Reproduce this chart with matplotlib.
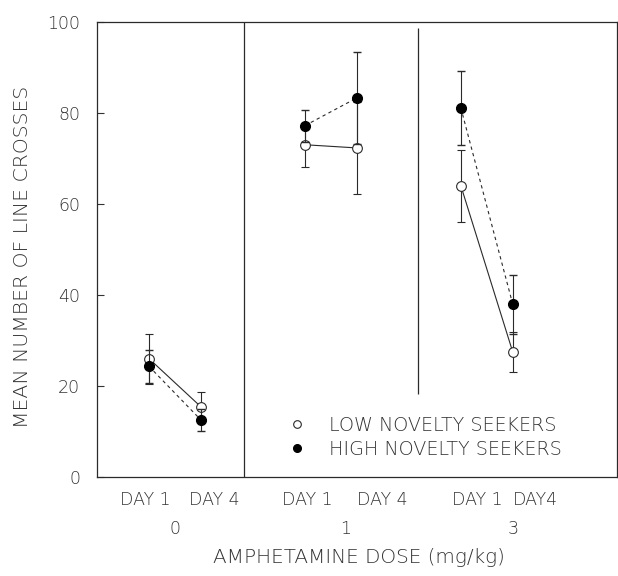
import matplotlib
matplotlib.use("Agg")
import matplotlib.pyplot as plt
from matplotlib.lines import Line2D

# group / day layout
doses = ["0", "1", "3"]
day_labels = ["DAY 1", "DAY 4", "DAY 1", "DAY 4", "DAY 1", "DAY4"]
x_pos = [1, 2, 4, 5, 7, 8]

# values (mean line crosses, +/- error)
low_mean = [26.0, 15.4, 73.0, 72.3, 64.0, 27.4]
low_err = [5.5, 3.3, 4.8, 10.2, 7.9, 4.4]
high_mean = [24.3, 12.5, 77.2, 83.3, 81.1, 37.9]
high_err = [3.7, 2.4, 3.5, 10.1, 8.1, 6.5]

ink = "#2a2a2a"
txt = "#333333"
plt.rcParams["font.family"] = ["DejaVu Sans"]
plt.rcParams["font.weight"] = "light"
plt.rcParams["axes.labelweight"] = "light"


def main():
    fig = plt.figure(figsize=(6.18, 5.76), dpi=100)
    ax = fig.add_axes([0.157, 0.172, 0.841, 0.79])

    for k in range(3):
        sl = slice(2 * k, 2 * k + 2)
        # low novelty seekers: open circles, solid line
        ax.errorbar(x_pos[sl], low_mean[sl], yerr=low_err[sl], fmt="-o",
                    color=ink, lw=0.8, elinewidth=0.8, capsize=3,
                    markersize=7, markerfacecolor="white",
                    markeredgecolor=ink, markeredgewidth=0.8, zorder=3)
        # high novelty seekers: filled circles, dashed line
        ax.errorbar(x_pos[sl], high_mean[sl], yerr=high_err[sl], fmt="o",
                    color=ink, elinewidth=0.8, capsize=3,
                    markersize=7, markerfacecolor="black",
                    markeredgecolor="black", zorder=4)
        ax.plot(x_pos[sl], high_mean[sl], color=ink, lw=0.8,
                ls=(0, (3, 3)), zorder=2)

    # panel separators
    ax.vlines(2.83, 0, 100, color=ink, lw=0.9)
    ax.vlines(6.17, 18.2, 98.6, color=ink, lw=0.9)

    ax.set_xlim(0, 10)
    ax.set_ylim(0, 100)
    ax.set_yticks(range(0, 101, 20))
    ax.tick_params(axis="y", direction="in", length=5, width=0.8,
                   labelsize=12.5, colors=txt, pad=12)
    ax.set_xticks([])
    for s in ax.spines.values():
        s.set_linewidth(0.9)
        s.set_color(ink)

    # day labels and dose labels under the axis
    day_x = [0.92, 2.25, 4.04, 5.48, 7.31, 8.44]
    dose_x = [1.5, 4.79, 8.0]
    tr = ax.get_xaxis_transform()
    for xx, lab in zip(day_x, day_labels):
        ax.text(xx, -0.05, lab, transform=tr, ha="center", va="center",
                fontsize=12.5, color=txt)
    for xx, lab in zip(dose_x, doses):
        ax.text(xx, -0.114, lab, transform=tr, ha="center", va="center",
                fontsize=12.5, color=txt)
    ax.text(5.04, -0.178, "AMPHETAMINE DOSE (mg/kg)", transform=tr,
            ha="center", va="center", fontsize=14.4, color=txt)

    ax.set_ylabel("MEAN NUMBER OF LINE CROSSES", fontsize=14.7, color=txt)
    ax.yaxis.set_label_coords(-0.125, 0.483)

    handles = [
        Line2D([], [], ls="none", marker="o", markersize=5.5,
               markerfacecolor="white", markeredgecolor=ink,
               markeredgewidth=0.8),
        Line2D([], [], ls="none", marker="o", markersize=5.5,
               markerfacecolor="black", markeredgecolor="black"),
    ]
    ax.legend(handles, ["LOW NOVELTY SEEKERS", "HIGH NOVELTY SEEKERS"],
              loc="center left", bbox_to_anchor=(0.347, 0.087),
              frameon=False, fontsize=13.8, handlelength=1.0,
              handletextpad=1.2, labelspacing=0.25, borderpad=0,
              labelcolor=txt)

    fig.savefig("out.png", dpi=100)


if __name__ == "__main__":
    main()
